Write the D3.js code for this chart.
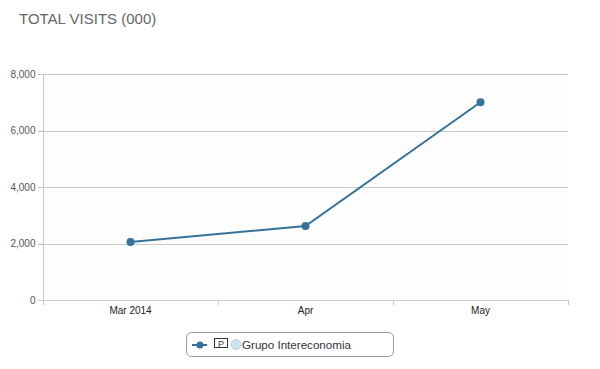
<!DOCTYPE html>
<html><head><meta charset="utf-8">
<script src="https://cdn.jsdelivr.net/npm/d3@7/dist/d3.min.js"></script>
<style>body{margin:0;background:#fff;font-family:Arial,"Liberation Sans",sans-serif}</style>
</head><body><svg id="c" width="600" height="369"></svg>
<script>
const categories = ["Mar 2014", "Apr", "May"];
const seriesName = "Grupo Intereconomia";
const values = [2050, 2620, 7000];
const yTicks = [0, 2000, 4000, 6000, 8000];
const title = "TOTAL VISITS (000)";

const svg = d3.select("#c");
const m = {l: 43, r: 568, t: 74, b: 300};
const x = d3.scaleBand().domain(categories).range([m.l, m.r]);
const y = d3.scaleLinear().domain([0, 8000]).range([m.b, m.t]);

svg.append("text").attr("x", 19).attr("y", 24).attr("font-size", 15).attr("fill", "#666")
  .text(title);

svg.append("rect").attr("x", m.l).attr("y", m.t).attr("width", m.r - m.l).attr("height", m.b - m.t).attr("fill", "#fdfdfd");

// gridlines
svg.append("g").selectAll("line").data(yTicks).join("line")
  .attr("x1", m.l - 5).attr("x2", m.r).attr("y1", d => Math.round(y(d)) + 0.5).attr("y2", d => Math.round(y(d)) + 0.5)
  .attr("stroke", "#c8c8c8").attr("stroke-width", 1);

// y axis
const ya = svg.append("g").attr("transform", `translate(${m.l + 0.5},0)`)
  .call(d3.axisLeft(y).tickValues(yTicks).tickFormat(d3.format(",")).tickSize(5).tickPadding(3));
ya.select(".domain").attr("stroke", "#c8c8c8").attr("d", `M0,${m.t}V${m.b}`);
ya.selectAll(".tick line").attr("stroke", "#c8c8c8");
ya.selectAll("text").attr("font-size", 10).attr("fill", "#555").attr("font-family", "Arial,'Liberation Sans',sans-serif");

// x axis
const xa = svg.append("g").attr("transform", `translate(0,${m.b + 0.5})`)
  .call(d3.axisBottom(x).tickSize(0).tickPadding(6));
xa.select(".domain").attr("stroke", "#c8c8c8").attr("d", `M${m.l},0H${m.r}`);
xa.selectAll("text").attr("font-size", 10).attr("fill", "#222").attr("font-family", "Arial,'Liberation Sans',sans-serif");
const bounds = [...categories.map(c => x(c)), x(categories[categories.length - 1]) + x.bandwidth()];
svg.append("g").selectAll("line").data(bounds).join("line")
  .attr("x1", d => Math.round(d) + 0.5).attr("x2", d => Math.round(d) + 0.5)
  .attr("y1", m.b).attr("y2", m.b + 5).attr("stroke", "#c8c8c8");

// line
const color = "#36719a";
const pts = categories.map((c, i) => [x(c) + x.bandwidth() / 2, y(values[i])]);
svg.append("path").attr("d", d3.line()(pts)).attr("fill", "none").attr("stroke", color).attr("stroke-width", 2);
svg.append("g").selectAll("circle").data(pts).join("circle")
  .attr("cx", d => d[0]).attr("cy", d => d[1]).attr("r", 4).attr("fill", color);

// legend
const lg = svg.append("g");
lg.append("rect").attr("x", 186.5).attr("y", 332.5).attr("width", 207).attr("height", 24).attr("rx", 5)
  .attr("fill", "#fff").attr("stroke", "#999");
lg.append("line").attr("x1", 192).attr("x2", 207).attr("y1", 345).attr("y2", 345).attr("stroke", color).attr("stroke-width", 2);
lg.append("circle").attr("cx", 200).attr("cy", 345).attr("r", 3.5).attr("fill", color);
lg.append("rect").attr("x", 214.5).attr("y", 338.5).attr("width", 13).attr("height", 9).attr("fill", "#fff").attr("stroke", "#333");
lg.append("text").attr("x", 221).attr("y", 346.5).attr("text-anchor", "middle").attr("font-size", 9).attr("fill", "#333").text("P");
lg.append("circle").attr("cx", 236).attr("cy", 344.5).attr("r", 5).attr("fill", "#cfe3f0").attr("stroke", "#b8d0e0");
lg.append("text").attr("x", 242).attr("y", 349).attr("font-size", 11.6).attr("fill", "#333").text(seriesName);
</script></body></html>
